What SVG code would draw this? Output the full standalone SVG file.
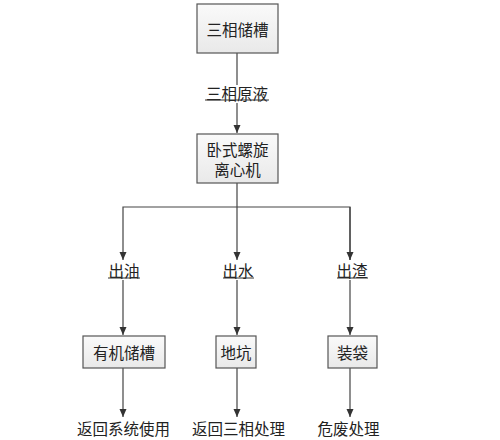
<svg xmlns="http://www.w3.org/2000/svg" width="500" height="440" viewBox="0 0 500 440">
<defs>
<linearGradient id="g" x1="0" y1="0" x2="0" y2="1">
<stop offset="0" stop-color="#fafafa"/>
<stop offset="1" stop-color="#e9e9e9"/>
</linearGradient>
<marker id="a" markerWidth="10" markerHeight="10" refX="8" refY="4" orient="auto" markerUnits="userSpaceOnUse">
<path d="M0,0.5 L8,4 L0,7.5 Z" fill="#333"/>
</marker>
<style>
.box{fill:url(#g);stroke:#555;stroke-width:1.2}
.t{font-family:"Noto Sans CJK SC",sans-serif;font-size:15.5px;fill:#222;text-anchor:middle;dominant-baseline:central}
.c{stroke:#444;stroke-width:1.2;fill:none}
.u{stroke:#333;stroke-width:1}
</style>
</defs>
<rect width="500" height="440" fill="#fff"/>
<g id="connectors">
<path class="c" d="M237,53 V133" marker-end="url(#a)"/>
<path class="c" d="M237,183 V260" marker-end="url(#a)"/>
<path class="c" d="M350,260 V207 H123 V260" marker-end="url(#a)"/>
<path class="c" d="M350,207 V260" marker-end="url(#a)"/>
<path class="c" d="M123,280 V335" marker-end="url(#a)"/>
<path class="c" d="M237,280 V335" marker-end="url(#a)"/>
<path class="c" d="M350,280 V335" marker-end="url(#a)"/>
<path class="c" d="M123,368 V417" marker-end="url(#a)"/>
<path class="c" d="M237,368 V417" marker-end="url(#a)"/>
<path class="c" d="M350,368 V417" marker-end="url(#a)"/>
</g>
<g id="label-sanxiangyuanye">
<rect x="204" y="85" width="66" height="18" fill="#fff"/>
<text class="t" x="237" y="93">三相原液</text>
<line class="u" x1="205" y1="100" x2="269" y2="100"/>
</g>
<g id="node-sanxiangchucao">
<rect class="box" x="197" y="4" width="81" height="49"/>
<text class="t" x="237.5" y="28.5">三相储槽</text>
</g>
<g id="node-lixinji">
<rect class="box" x="197" y="134" width="81" height="49"/>
<text class="t" x="237.5" y="149">卧式螺旋</text>
<text class="t" x="237.5" y="169">离心机</text>
</g>
<g id="label-chuyou">
<rect x="107" y="262" width="34" height="18" fill="#fff"/>
<text class="t" x="124" y="270">出油</text>
<line class="u" x1="108" y1="278" x2="140" y2="278"/>
</g>
<g id="label-chushui">
<rect x="222" y="262" width="34" height="18" fill="#fff"/>
<text class="t" x="238" y="270">出水</text>
<line class="u" x1="223" y1="278" x2="254" y2="278"/>
</g>
<g id="label-chuzha">
<rect x="336" y="262" width="34" height="18" fill="#fff"/>
<text class="t" x="352" y="270">出渣</text>
<line class="u" x1="337" y1="278" x2="368" y2="278"/>
</g>
<g id="node-youjichucao">
<rect class="box" x="83" y="336" width="82" height="32"/>
<text class="t" x="124" y="352">有机储槽</text>
</g>
<g id="node-dikeng">
<rect class="box" x="216" y="336" width="40" height="32"/>
<text class="t" x="236" y="352">地坑</text>
</g>
<g id="node-zhuangdai">
<rect class="box" x="328" y="336" width="49" height="32"/>
<text class="t" x="352.5" y="352">装袋</text>
</g>
<g id="out-1"><text class="t" x="123.5" y="428">返回系统使用</text></g>
<g id="out-2"><text class="t" x="238.5" y="428">返回三相处理</text></g>
<g id="out-3"><text class="t" x="348.5" y="428">危废处理</text></g>
</svg>
